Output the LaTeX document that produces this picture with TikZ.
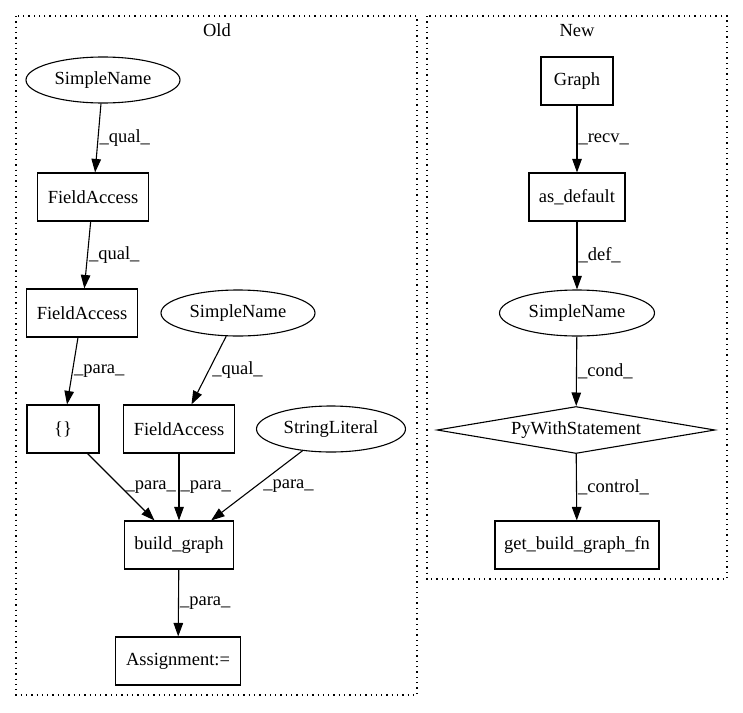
\documentclass[tikz,border=0pt]{standalone}
\usepackage{fontspec}
\setmainfont{Liberation Serif}
\usetikzlibrary{shapes.geometric,arrows.meta}
\begin{document}
\begin{tikzpicture}[x=1pt,y=-1pt,
  every node/.style={font=\fontsize{18.5}{22}\selectfont},
  box/.style={draw,line width=1.1pt,rectangle,minimum height=48pt,inner sep=0pt},
  oval/.style={draw,line width=1.1pt,ellipse,minimum height=46pt,minimum width=154pt,inner sep=0pt},
  dia/.style={draw,line width=1.1pt,diamond,aspect=6,minimum width=278pt,minimum height=47pt,inner sep=0pt},
  conn/.style={draw,line width=1.1pt,-{Triangle[length=13.5pt,width=9.5pt]}},
  lbl/.style={anchor=west,inner sep=1pt},
  cluster/.style={draw,line width=1.3pt,dash pattern=on 1.3pt off 4pt}]
\useasboundingbox (0,0) rectangle (743,712);
% clusters
\draw[cluster] (16,16) rectangle (417,695);
\draw[cluster] (427,16) rectangle (727,579);
\node (oldlbl) at (217,30) {Old};
\node (newlbl) at (577,31) {New};
% Old nodes
\node[oval] (sn1) at (103,80) {SimpleName};
\node[box,minimum width=111pt] (fa1) at (93,197) {FieldAccess};
\node[box,minimum width=111pt] (fa2) at (82,313) {FieldAccess};
\node[oval] (sn2) at (238,313) {SimpleName};
\node[box,minimum width=72pt] (br) at (63,429) {\{\}};
\node[box,minimum width=111pt] (fa3) at (179,429) {FieldAccess};
\node[oval,minimum width=149pt] (sl) at (331,429) {StringLiteral};
\node[box,minimum width=109pt] (bg) at (179,545) {build\_graph};
\node[box,minimum width=125pt] (as) at (178,661) {Assignment:=};
% New nodes
\node[box,minimum width=72pt] (gr) at (577,81) {Graph};
\node[box,minimum width=96pt] (ad) at (577,197) {as\_default};
\node[oval,minimum width=155pt] (sn3) at (577,313) {SimpleName};
\node[dia] (pw) at (576,430) {PyWithStatement};
\node[box,minimum width=164pt] (gb) at (577,545) {get\_build\_graph\_fn};
% Old edges
\draw[conn] (sn1) -- node[lbl] (l1) {\_qual\_} (fa1);
\draw[conn] (fa1) -- node[lbl] (l2) {\_qual\_} (fa2);
\draw[conn] (fa2) -- node[lbl] (l3) {\_para\_} (br);
\draw[conn] (sn2) -- node[lbl,xshift=2pt] (l4) {\_qual\_} (fa3);
\draw[conn] (br) -- node[lbl,xshift=3pt] (l5) {\_para\_} (bg);
\draw[conn] (fa3) -- node[lbl] (l6) {\_para\_} (bg);
\draw[conn] (sl) -- node[lbl,xshift=5pt] (l7) {\_para\_} (bg);
\draw[conn] (bg) -- node[lbl] (l8) {\_para\_} (as);
% New edges
\draw[conn] (gr) -- node[lbl] (l9) {\_recv\_} (ad);
\draw[conn] (ad) -- node[lbl] (l10) {\_def\_} (sn3);
\draw[conn] (sn3) -- node[lbl] (l11) {\_cond\_} (pw);
\draw[conn] (pw) -- node[lbl] (l12) {\_control\_} (gb);
\end{tikzpicture}
\end{document}
